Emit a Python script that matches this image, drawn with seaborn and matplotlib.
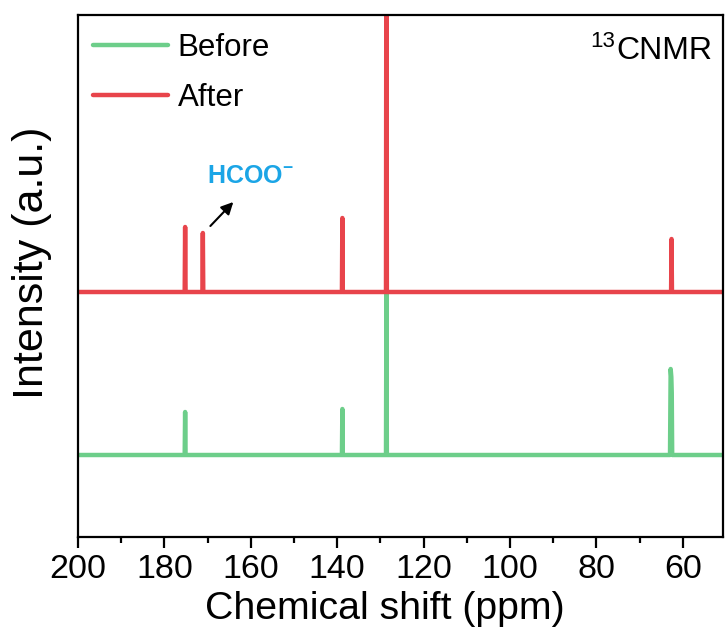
import numpy as np
import pandas as pd
import matplotlib
matplotlib.use("Agg")
import matplotlib.pyplot as plt
import seaborn as sns
from matplotlib.ticker import MultipleLocator

# ---- data ----
before_ppm = [200.0, 175.30, 175.20, 175.10, 138.90, 138.80, 138.70,
              128.70, 128.60, 128.50, 62.95, 62.80, 62.65, 62.55, 62.45, 50.0]
before_int = [82, 82, 125, 82, 82, 128, 82,
              82, 243, 82, 82, 168, 160, 144, 82, 82]

after_ppm = [200.0, 175.30, 175.20, 175.10, 171.20, 171.10, 171.00,
             138.90, 138.80, 138.70, 128.70, 128.60, 128.50,
             62.70, 62.60, 62.50, 50.0]
after_int = [245, 245, 310, 245, 245, 304, 245,
             245, 319, 245, 245, 700, 245,
             245, 298, 245, 245]

series_names = ["Before", "After"]
series_colors = ["#6DCE8A", "#E8444B"]
xticks = [200, 180, 160, 140, 120, 100, 80, 60]

sns.set_theme(style="ticks")
plt.rcParams['font.family'] = ['Liberation Sans', 'DejaVu Sans']
plt.rcParams['mathtext.fontset'] = 'custom'
plt.rcParams['mathtext.rm'] = 'Liberation Sans'
plt.rcParams['mathtext.bf'] = 'Liberation Sans:bold'
plt.rcParams['text.color'] = 'black'
plt.rcParams['axes.labelcolor'] = 'black'
plt.rcParams['xtick.color'] = 'black'
plt.rcParams['ytick.color'] = 'black'

fig = plt.figure(figsize=(7.26, 6.41), dpi=100)
ax = fig.add_axes([78/726, 1-537/641, (722.5-78)/726, (537-15)/641])

df_b = pd.DataFrame({"ppm": before_ppm, "I": before_int})
df_a = pd.DataFrame({"ppm": after_ppm, "I": after_int})
sns.lineplot(data=df_b, x="ppm", y="I", sort=False, estimator=None,
             color=series_colors[0], lw=3.2, ax=ax, label=series_names[0])
sns.lineplot(data=df_a, x="ppm", y="I", sort=False, estimator=None,
             color=series_colors[1], lw=3.2, ax=ax, label=series_names[1])

ax.set_xlim(200, 50.8)
ax.set_ylim(0, 522)
ax.set_xticks(xticks)
ax.xaxis.set_minor_locator(MultipleLocator(10))
ax.set_yticks([])
ax.tick_params(axis='x', which='major', length=8, width=1.6, labelsize=24.5, pad=4,
               direction='out', colors='black')
ax.tick_params(axis='x', which='minor', length=4.5, width=1.6, direction='out')
for s in ax.spines.values():
    s.set_visible(True)
    s.set_linewidth(1.6)
    s.set_color('black')

ax.set_xlabel("Chemical shift (ppm)", fontsize=28.3)
ax.xaxis.set_label_coords((385-78)/644.5, -(591-537)/522)
ax.set_ylabel("Intensity (a.u.)", fontsize=31, labelpad=19)
ax.yaxis.label.set_y((537-263)/522)

leg = ax.legend(loc='upper left', frameon=False, fontsize=22.5, handlelength=2.4,
                handletextpad=0.3, labelspacing=0.64, borderaxespad=0.3,
                bbox_to_anchor=(-0.0105, 1.0077))
for l in leg.get_lines():
    l.set_linewidth(3.2)

ax.text((712-78)/644.5, (537-59)/522, "CNMR", transform=ax.transAxes,
        ha='right', va='baseline', fontsize=23)
ax.text((615-78)/644.5, (537-47)/522, "13", transform=ax.transAxes,
        ha='right', va='baseline', fontsize=16)

ax.text(160.0, 361, r"$\mathbf{HCOO^{-}}$", color="#1BA5E6", ha='center', va='center',
        fontsize=18)
ax.annotate('', xy=(163.6, 337), xytext=(169.8, 309),
            arrowprops=dict(arrowstyle='-|>', color='black', lw=1.5, mutation_scale=18))

fig.savefig("out.png", dpi=100)
